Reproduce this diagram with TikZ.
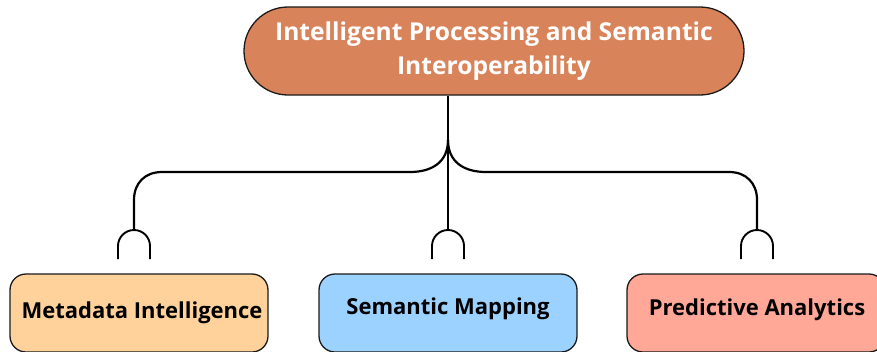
\documentclass[tikz,border=0pt]{standalone}
\usepackage{fontspec}
\setmainfont{Open Sans}
\definecolor{topfill}{HTML}{D9835A}
\definecolor{peach}{HTML}{FFD29B}
\definecolor{sky}{HTML}{9CD2FF}
\definecolor{salmon}{HTML}{FFA898}
\definecolor{edge}{HTML}{1A1A1A}
\tikzset{
  conn/.style={line width=2.2pt, draw=black},
  leafbox/.style={draw=edge, line width=1.3pt, rounded corners=16pt, minimum width=258pt, minimum height=78pt},
  leaftext/.style={font=\bfseries\fontsize{22}{28}\selectfont, text=black, anchor=base, inner sep=0pt},
  rootbox/.style={draw=edge, line width=1.3pt, fill=topfill, rounded corners=44pt, minimum width=500pt, minimum height=88pt,
    font=\bfseries\fontsize{24.6}{34}\selectfont, text=white, align=center}
}
\begin{document}
\begin{tikzpicture}[x=1pt,y=-1pt]
\useasboundingbox (0,0) rectangle (877,351);
\clip (0,0) rectangle (877,351);
\node[rootbox] (top) at (494,51) {Intelligent Processing and Semantic\\Interoperability};
\node[leafbox, fill=peach] (m1) at (139,313) {};
\node[leafbox, fill=sky] (m2) at (448,313) {};
\node[leafbox, fill=salmon] (m3) at (756,313) {};
\node[leaftext] (t1) at (142,318) {Metadata Intelligence};
\node[leaftext] (t2) at (448,314) {Semantic Mapping};
\node[leaftext] (t3) at (757,315) {Predictive Analytics};
\coordinate (split) at (448,140);
\coordinate (cL) at (134,230);
\coordinate (cM) at (448,230);
\coordinate (cR) at (757,230);
\draw[conn] (top.south -| split) -- (split);
\draw[conn] (split) .. controls (448,162) and (432,172) .. (410,172) -- (162,172) .. controls (145,172) and (134,183) .. (134,200) -- (cL);
\draw[conn] (split) .. controls (448,162) and (464,172) .. (486,172) -- (729,172) .. controls (746,172) and (757,183) .. (757,200) -- (cR);
\draw[conn, line width=2pt] (split) -- (cM);
\foreach \c in {cL,cM,cR}{
  \draw[conn, line width=1.9pt] ([xshift=-16pt,yshift=-29pt]\c) -- ([xshift=-16pt,yshift=-16pt]\c) arc (180:0:16pt) -- ([xshift=16pt,yshift=-29pt]\c);
}
\end{tikzpicture}
\end{document}
